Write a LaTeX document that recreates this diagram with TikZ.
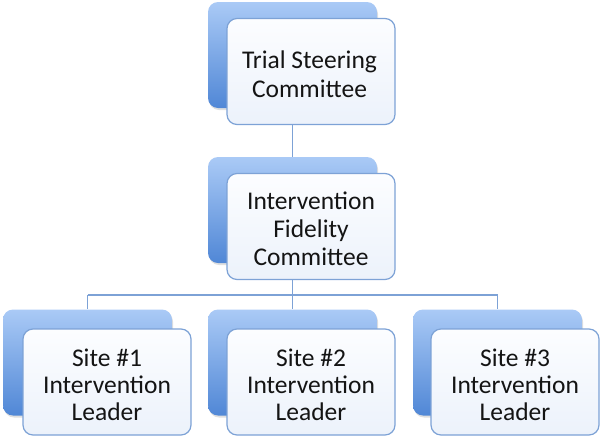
\documentclass[tikz,border=0pt]{standalone}
\usepackage{fontspec}
\setmainfont{Carlito}
\usetikzlibrary{shadows}
\definecolor{edgeblue}{RGB}{125,162,214}
\definecolor{backtop}{RGB}{170,202,246}
\definecolor{backbot}{RGB}{80,135,214}
\definecolor{fronttop}{RGB}{252,253,255}
\definecolor{frontbot}{RGB}{236,242,251}
\tikzset{
  backbox/.style={draw=none, rounded corners=10pt, minimum width=169pt, minimum height=106pt,
    top color=backtop, bottom color=backbot, inner sep=0pt,
    drop shadow={opacity=0.25, shadow xshift=1pt, shadow yshift=-2pt}},
  frontbox/.style={draw=edgeblue, line width=1.2pt, rounded corners=10pt, minimum width=168pt, minimum height=106pt,
    top color=fronttop, bottom color=frontbot, inner sep=0pt},
  label/.style={align=center, text=black!92},
  conn/.style={draw=edgeblue, line width=1.2pt}
}
\begin{document}
\begin{tikzpicture}[x=1pt,y=-1pt]
\useasboundingbox (0,0) rectangle (600,437);
\coordinate (hl) at (87.5,295);
\coordinate (hr) at (497.5,295);
% top
\node[backbox] (tb) at (292.5,55) {};
\node[frontbox] (tf) at (311,71.5) {};
% middle
\node[backbox] (mb) at (292.5,210) {};
% bottom backs
\node[backbox] (b1) at (87.5,362.5) {};
\node[backbox] (b2) at (292.5,362.5) {};
\node[backbox] (b3) at (497.5,362.5) {};
\draw[conn] (tf.south -| tb.south) -- (mb.north);
\draw[conn] (hl) -- (hr);
\draw[conn] (hl) -- (b1.north);
\draw[conn] (hr) -- (b3.north);
\node[frontbox] (mf) at (311,226.5) {};
\draw[conn] (mf.south -| mb.south) -- (b2.north);
\node[frontbox] (f1) at (107,382) {};
\node[frontbox] (f2) at (311,382) {};
\node[frontbox] (f3) at (515,382) {};
% texts
\node[label, font=\fontsize{25.5}{29}\selectfont] (t1) at (309.5,74) {Trial Steering\\Committee};
\node[label, font=\fontsize{25.5}{28}\selectfont] (t2) at (311,229) {Intervention\\Fidelity\\Committee};
\node[label, font=\fontsize{25.5}{27}\selectfont] (t3) at (107,385) {Site \#1\\Intervention\\Leader};
\node[label, font=\fontsize{25.5}{27}\selectfont] (t4) at (311,385) {Site \#2\\Intervention\\Leader};
\node[label, font=\fontsize{25.5}{27}\selectfont] (t5) at (515,385) {Site \#3\\Intervention\\Leader};
\end{tikzpicture}
\end{document}
